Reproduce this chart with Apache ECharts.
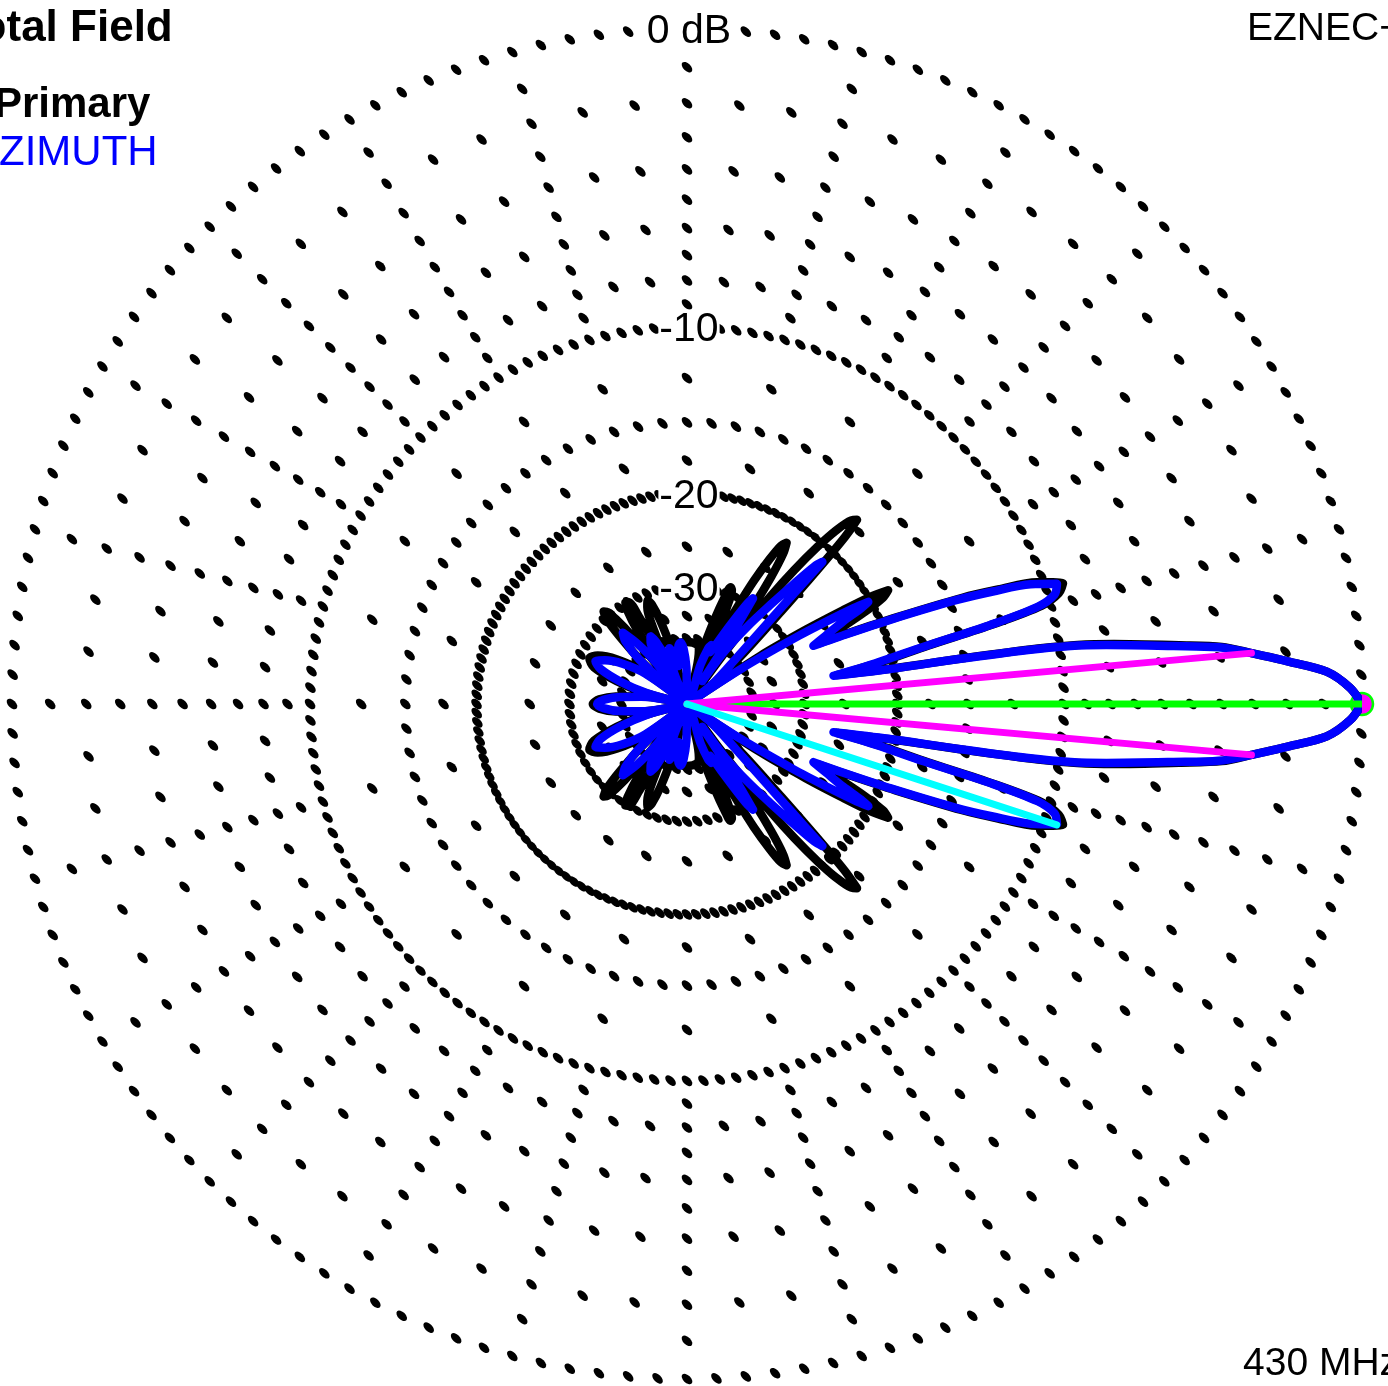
<!DOCTYPE html>
<html>
<head>
<meta charset="utf-8">
<script src="https://cdn.jsdelivr.net/npm/echarts@6.0.0/dist/echarts.min.js"></script>
<style>
html,body{margin:0;padding:0;background:#fff;}
#chart{width:1388px;height:1386px;}
</style>
</head>
<body>
<div id="chart"></div>
<script>
// ---- Pattern data: [azimuth deg (CCW from right), gain dB], upper half 0..180 (pattern is symmetric) ----
const bluePattern = [
  [0,0],[1.4,-0.3],[2.9,-0.9],[4.0,-1.9],[5.15,-3.0],[6.1,-4.0],[6.8,-5.5],[8.0,-8.0],[8.6,-9.5],[9.0,-11.5],
  [9.4,-15.5],[9.8,-20.5],[10.9,-25.9],[12.2,-21.5],[13.6,-17.5],[14.6,-13.2],[15.5,-10.6],[16.6,-9.7],[18.0,-9.46],
  [19.2,-10.6],[20.2,-12.5],[21.1,-14.6],[22.5,-19.2],[23.7,-23.5],[24.7,-27.1],[26.2,-25.3],[27.9,-23.0],[28.8,-21.0],
  [29.4,-20.2],[29.9,-21.5],[30.6,-24.5],[31.5,-29],[33.0,-40],[34.5,-80],[38.0,-52],[42.9,-39.5],[45.0,-31],
  [45.9,-25.5],[46.4,-21.2],[47.2,-22],[48.3,-24.5],[50.0,-28.5],[52.0,-33],[54.5,-40],[56.5,-55],[57.0,-40],
  [57.5,-33],[58.0,-29],[59.0,-30],[60.5,-33],[62.5,-37],[64.5,-41],[66.0,-42.5],[67.5,-40.5],[69.0,-41.5],
  [71.0,-48],[73.0,-80],[88.0,-80],[91.0,-50],[93.5,-43],[96.0,-41],[98.5,-42],[101.0,-47],[102.5,-49],[104.5,-44],
  [107.5,-42],[110.0,-44.5],[112.5,-80],[114.5,-45],[116.5,-39],[118.3,-37.3],[120.5,-38.5],[122.5,-43],[124.5,-80],
  [127.0,-44],[129.5,-37],[132.0,-33.5],[134.5,-35],[137.0,-40],[139.5,-80],[144.0,-44],[148.0,-37.5],[152.0,-34],
  [155.0,-32.6],[158.0,-34],[161.5,-39],[165.0,-48],[167.5,-80],[171.0,-46],[174.0,-39.5],[177.0,-36],[180.0,-34.6]
];
const blackPattern = [
  [0,0],[1.4,-0.3],[2.9,-0.9],[4.0,-1.9],[5.15,-3.0],[6.1,-3.9],[6.8,-5.3],[8.0,-7.7],[8.6,-9.2],[9.0,-11.0],
  [9.4,-15.0],[9.8,-20.0],[10.9,-25.5],[12.2,-21.0],[13.6,-17.2],[14.6,-13.0],[15.5,-10.4],[16.6,-9.5],[17.8,-9.2],
  [19.2,-10.3],[20.2,-12.2],[21.1,-14.2],[22.5,-18.8],[23.7,-23.0],[24.7,-26.5],[26.0,-24.0],[27.3,-21.0],[28.5,-19.0],
  [29.5,-18.4],[30.3,-19.8],[31.0,-22.5],[32.0,-27],[33.3,-35],[34.5,-80],[38.0,-50],[42.0,-37],[44.5,-28],[45.8,-22],
  [46.6,-18.5],[47.3,-17],[48.2,-17.3],[49.3,-18.5],[50.3,-20.5],[51.3,-23.5],[52.2,-27.5],[53.0,-33],[53.8,-42],
  [54.5,-80],[55.2,-40],[55.8,-30],[56.5,-25.5],[57.4,-22.8],[58.3,-21.8],[59.3,-22.3],[60.3,-24],[61.5,-27],
  [62.5,-31],[63.5,-36],[64.8,-45],[66.0,-80],[66.8,-40],[67.6,-32],[68.5,-29.3],[69.5,-29],[70.5,-30.5],[72.0,-35],
  [73.5,-42],[75.0,-80],[77.5,-43],[80.0,-41.5],[90.0,-41],[100.0,-41.5],[102.5,-43],[104.5,-80],[106.0,-42],
  [107.8,-35],[109.5,-31.8],[110.8,-31],[112.3,-32],[114.0,-36],[115.5,-45],[116.5,-80],[117.5,-42],[118.8,-33],
  [120.0,-30],[121.2,-29.8],[122.5,-31],[124.0,-35],[125.5,-45],[126.5,-80],[127.8,-42],[129.3,-33],[130.8,-29.5],
  [132.0,-29],[133.4,-30],[135.0,-34],[137.0,-42],[139.5,-80],[143.5,-43],[147.5,-36],[151.5,-32.5],[155.0,-31.5],
  [158.5,-32.8],[162.0,-38],[165.0,-46],[167.5,-80],[171.0,-45],[174.0,-38.5],[177.0,-35],[180.0,-33.8]
];

// markers: maximum, -3 dB beamwidth edges, strongest sidelobe
const maxAngle = 0, maxDb = 0;
const beamEdgeAngles = [5.15, 354.85], beamEdgeDb = -3.0;
const sidelobeAngle = 341.9, sidelobeDb = -9.46;

// grid (ARRL log scale rings, dotted radials)
const ringDb = [0, -10, -15, -20, -30, -40];
const ringDotStep = [2.5, 2.5, 5, 2.5, 5, 10];
const ringLabelDb = [0, -10, -20, -30];
const ringLabelText = ['0 dB', '-10', '-20', '-30'];
const majorRadialDb = [-1, -2, -3, -4, -5, -6, -7, -8, -9, -12.5, -17.5, -25, -35];
const minorRadialDb = [-2, -4, -6, -8];

// ARRL log scale: radius factor 0.89 per 2 dB
const arrl = db => Math.pow(0.89, -db / 2);

function fullPattern(half) {
  const pts = half.map(p => [arrl(p[1]), p[0]]);
  for (let i = half.length - 2; i >= 0; i--) pts.push([arrl(half[i][1]), 360 - half[i][0]]);
  return pts;
}

const gridDots = [];
ringDb.forEach((d, k) => {
  for (let a = 0; a < 360; a += ringDotStep[k]) gridDots.push([arrl(d), a]);
});
for (let a = 0; a < 360; a += 5) {
  const list = (a % 15 === 0) ? majorRadialDb : minorRadialDb;
  list.forEach(d => gridDots.push([arrl(d), a]));
}

const FONT = '"Liberation Sans", Arial, sans-serif';
const chart = echarts.init(document.getElementById('chart'), null, {renderer: 'canvas'});

chart.setOption({
  animation: false,
  backgroundColor: '#ffffff',
  polar: { center: [687, 704], radius: 675 },
  angleAxis: { type: 'value', min: 0, max: 360, startAngle: 0, clockwise: false, show: false },
  radiusAxis: { type: 'value', min: 0, max: 1, show: false },
  graphic: [
    { type: 'text', x: -44, y: 29, style: { text: 'Total Field', font: 'bold 44px ' + FONT, fill: '#000', verticalAlign: 'middle' } },
    { type: 'text', x: -6, y: 105, style: { text: 'Primary', font: 'bold 42px ' + FONT, fill: '#000', verticalAlign: 'middle' } },
    { type: 'text', x: -29, y: 153, style: { text: 'AZIMUTH', font: '42px ' + FONT, fill: '#0000ff', verticalAlign: 'middle' } },
    { type: 'text', x: 1247, y: 29, style: { text: 'EZNEC+', font: '39px ' + FONT, fill: '#000', verticalAlign: 'middle' } },
    { type: 'text', x: 1243, y: 1364, style: { text: '430 MHz', font: '39px ' + FONT, fill: '#000', verticalAlign: 'middle' } }
  ],
  series: [
    {
      name: 'grid', type: 'scatter', coordinateSystem: 'polar', silent: true,
      symbol: 'circle', symbolSize: [13, 7.5], symbolRotate: -45,
      itemStyle: { color: '#000', opacity: 1 }, data: gridDots
    },
    {
      name: 'ringLabels', type: 'scatter', coordinateSystem: 'polar', silent: true,
      symbolSize: 0.1, itemStyle: { color: '#fff', opacity: 1 },
      label: {
        show: true, position: 'inside', offset: [2, 3],
        formatter: p => ringLabelText[p.dataIndex],
        fontFamily: FONT, fontSize: 41, color: '#000', opacity: 1,
        backgroundColor: '#fff', padding: [0, 1]
      },
      data: ringLabelDb.map(d => [arrl(d), 90])
    },
    {
      name: 'black', type: 'line', coordinateSystem: 'polar', symbol: 'none', smooth: 0.3,
      lineStyle: { color: '#000', width: 8.5, join: 'round', cap: 'round' },
      data: fullPattern(blackPattern)
    },
    {
      name: 'blue', type: 'line', coordinateSystem: 'polar', symbol: 'none', smooth: 0.3,
      lineStyle: { color: '#0000ff', width: 8.5, join: 'round', cap: 'round' },
      data: fullPattern(bluePattern)
    },
    {
      name: 'maxLine', type: 'line', coordinateSystem: 'polar', symbol: 'none',
      lineStyle: { color: '#00ff00', width: 7, cap: 'round' },
      data: [[0, maxAngle], [arrl(maxDb), maxAngle]]
    },
    {
      name: 'beamwidth', type: 'line', coordinateSystem: 'polar', symbol: 'none',
      lineStyle: { color: '#ff00ff', width: 7, cap: 'round', join: 'round' },
      data: [[arrl(beamEdgeDb), beamEdgeAngles[0]], [0, 0], [arrl(beamEdgeDb), beamEdgeAngles[1]]]
    },
    {
      name: 'maxMarker', type: 'scatter', coordinateSystem: 'polar', silent: true,
      symbol: 'circle', symbolSize: 22,
      itemStyle: { color: '#ff00ff', borderColor: '#00ff00', borderWidth: 2.5, opacity: 1 },
      data: [[arrl(maxDb), maxAngle]]
    },
    {
      name: 'sidelobe', type: 'line', coordinateSystem: 'polar', symbol: 'none',
      lineStyle: { color: '#00ffff', width: 7, cap: 'round' },
      data: [[0, 0], [arrl(sidelobeDb), sidelobeAngle]]
    }
  ]
});
</script>
</body>
</html>
